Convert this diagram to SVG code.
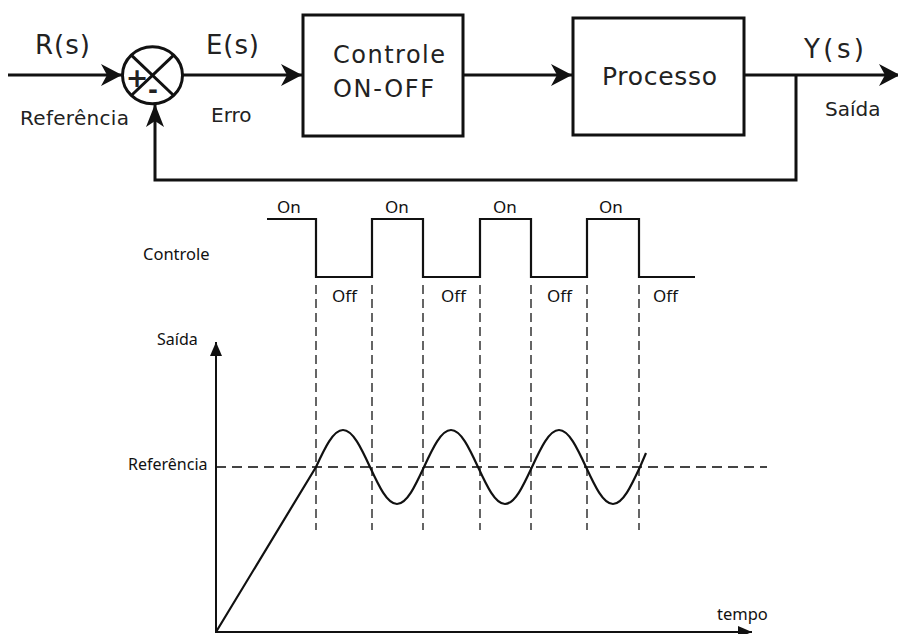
<svg xmlns="http://www.w3.org/2000/svg" width="898" height="634" viewBox="0 0 898 634">
<style>
.blk{fill:none;stroke:#111;stroke-width:3}
.box{fill:#fff;stroke:#111;stroke-width:3}
.t1{font-family:"DejaVu Sans",sans-serif;fill:#222}
.t2{font-family:"Noto Sans","Open Sans",sans-serif;fill:#111}
.dash{fill:none;stroke:#333;stroke-width:1.5;stroke-dasharray:9 5}
.wave{fill:none;stroke:#111;stroke-width:2.2}
.ax{fill:none;stroke:#111;stroke-width:2}
</style>
<defs>
<marker id="dart" markerUnits="userSpaceOnUse" markerWidth="24" markerHeight="26" viewBox="-22 -12 24 24" refX="0" refY="0" orient="auto">
<path d="M0,0 L-21,-11 L-15,0 L-21,11 Z" fill="#111"/>
</marker>
<marker id="dart2" markerUnits="userSpaceOnUse" markerWidth="26" markerHeight="20" viewBox="-25 -10 26 20" refX="0" refY="0" orient="auto">
<path d="M0,0 L-23,-9 L-17,0 L-23,9 Z" fill="#111"/>
</marker>
<marker id="tri" markerUnits="userSpaceOnUse" markerWidth="16" markerHeight="14" viewBox="-15 -7 16 14" refX="0" refY="0" orient="auto">
<path d="M0,0 L-14,-6 L-14,6 Z" fill="#111"/>
</marker>
</defs>
<rect width="898" height="634" fill="#fff"/>

<g id="connectors">
<line class="blk" x1="8" y1="75" x2="122" y2="75" marker-end="url(#dart)"/>
<line class="blk" x1="183" y1="75" x2="302" y2="75" marker-end="url(#dart)"/>
<line class="blk" x1="463" y1="75" x2="572" y2="75" marker-end="url(#dart)"/>
<line class="blk" x1="744" y1="75" x2="900" y2="75" marker-end="url(#dart)"/>
<polyline class="blk" points="796,75 796,180 155,180 155,104" marker-end="url(#dart2)"/>
</g>

<g id="sum">
<ellipse cx="152.5" cy="75.3" rx="30" ry="28.5" fill="#fff" stroke="#111" stroke-width="3"/>
<line class="blk" x1="131.3" y1="55.1" x2="173.7" y2="95.5"/>
<line class="blk" x1="173.7" y1="55.1" x2="131.3" y2="95.5"/>
<text class="t1" x="137" y="87" font-size="27" font-weight="bold" text-anchor="middle">+</text>
<text class="t1" x="153" y="98" font-size="24" font-weight="bold" text-anchor="middle">-</text>
</g>

<g id="labels-top">
<text class="t1" x="35" y="54" font-size="26" textLength="55" lengthAdjust="spacing">R(s)</text>
<text class="t1" x="206" y="54" font-size="26" textLength="53" lengthAdjust="spacing">E(s)</text>
<text class="t1" x="804" y="58" font-size="26" textLength="60" lengthAdjust="spacing">Y(s)</text>
<text class="t1" x="20" y="125" font-size="20" textLength="109" lengthAdjust="spacing">Referência</text>
<text class="t1" x="211" y="122" font-size="20">Erro</text>
<text class="t1" x="825" y="116" font-size="20">Saída</text>
</g>

<g id="controle">
<rect class="box" x="303" y="15" width="160" height="121"/>
<text class="t1" x="333" y="63" font-size="24" textLength="112" lengthAdjust="spacing">Controle</text>
<text class="t1" x="333" y="97" font-size="24" textLength="101" lengthAdjust="spacing">ON-OFF</text>
</g>

<g id="processo">
<rect class="box" x="573" y="18" width="171" height="117"/>
<text class="t1" x="602" y="85" font-size="25" textLength="115" lengthAdjust="spacing">Processo</text>
</g>

<g id="control-signal">
<text class="t2" x="143" y="260" font-size="16.5">Controle</text>
<polyline class="wave" points="267,219 316,219 316,277 372,277 372,219 423,219 423,277 480,277 480,219 531,219 531,277 587,277 587,219 639,219 639,277 695,277"/>
<text class="t2" x="277" y="213" font-size="17">On</text>
<text class="t2" x="385" y="213" font-size="17">On</text>
<text class="t2" x="493" y="213" font-size="17">On</text>
<text class="t2" x="599" y="213" font-size="17">On</text>
<text class="t2" x="332" y="302" font-size="17">Off</text>
<text class="t2" x="441" y="302" font-size="17">Off</text>
<text class="t2" x="547" y="302" font-size="17">Off</text>
<text class="t2" x="653" y="302" font-size="17">Off</text>
</g>

<g id="dashes">
<line class="dash" x1="316" y1="285" x2="316" y2="530"/>
<line class="dash" x1="372" y1="285" x2="372" y2="530"/>
<line class="dash" x1="423" y1="285" x2="423" y2="530"/>
<line class="dash" x1="480" y1="285" x2="480" y2="530"/>
<line class="dash" x1="531" y1="285" x2="531" y2="530"/>
<line class="dash" x1="587" y1="285" x2="587" y2="530"/>
<line class="dash" x1="639" y1="285" x2="639" y2="530"/>
<line fill="none" stroke="#444" stroke-width="2" stroke-dasharray="10 6" x1="216" y1="467" x2="767" y2="467"/>
</g>

<g id="plot">
<line class="ax" x1="216" y1="633" x2="216" y2="342" marker-end="url(#tri)"/>
<line class="ax" x1="215" y1="632" x2="752" y2="632" marker-end="url(#tri)"/>
<text class="t2" x="157" y="345" font-size="16">Saída</text>
<text class="t2" x="128" y="470" font-size="16">Referência</text>
<text class="t2" x="717" y="620" font-size="16.5">tempo</text>
<path class="wave" d="M216,632 L316,467 C324.8,448 333.2,430 343,430 C352.8,430 361.2,448 370,467 C378.8,486 387.2,504 397,504 C406.8,504 415.2,486 424,467 C432.8,448 441.2,430 451,430 C460.8,430 469.2,448 478,467 C486.8,486 495.2,504 505,504 C514.8,504 523.2,486 532,467 C540.8,448 549.2,430 559,430 C568.8,430 577.2,448 586,467 C594.8,486 603.2,504 613,504 C622.8,504 631.2,486 640,467 L646,453"/>
</g>
</svg>
